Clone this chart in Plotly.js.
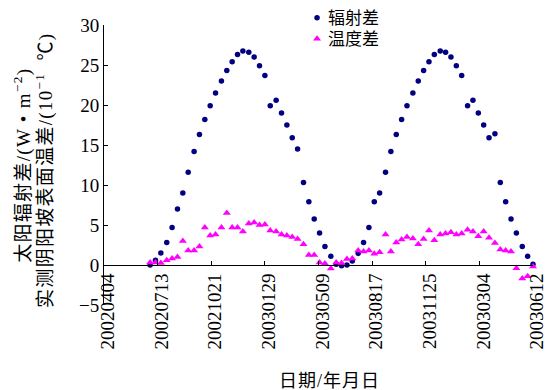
<!DOCTYPE html>
<html>
<head>
<meta charset="utf-8">
<script src="https://cdn.plot.ly/plotly-3.0.1.min.js"></script>
<style>
html,body{margin:0;padding:0;background:#fff;}
#chart{width:547px;height:390px;}
</style>
</head>
<body>
<div id="chart"></div>
<script>
// days since 2002-04-04 (dekadal observations)
var dayOffset = [86,96,106,117,127,137,147,157,168,178,
  188,198,208,219,229,239,249,259,270,280,
  290,300,310,321,331,341,351,361,372,382,
  392,402,412,423,433,443,453,463,474,484,
  494,504,514,525,535,545,555,565,576,586,
  596,606,616,627,637,647,657,667,678,688,
  698,708,718,729,739,749,759,769,780,790,
  800];
// 辐射差 (W·m-2)
var radiationDiff = [0.0,0.6,1.5,2.8,4.7,7.0,9.0,11.6,14.2,16.3,
  18.2,19.9,21.5,23.0,24.3,25.4,26.3,26.75,26.6,26.0,
  24.9,23.7,19.9,20.6,19.0,17.5,15.9,14.5,10.3,7.9,
  5.75,4.0,2.3,1.1,0.1,-0.1,0.0,0.5,1.45,2.8,
  4.7,7.9,9.0,11.6,14.2,16.3,18.2,19.9,21.5,23.0,
  24.3,25.4,26.3,26.75,26.6,26.0,24.9,23.7,19.9,20.6,
  19.0,17.5,15.9,16.4,10.3,7.9,5.75,4.0,2.3,1.1,
  0.1];
// 温度差 (10^-1 ℃)
var temperatureDiff = [0.3,0.3,0.25,0.6,0.8,1.0,3.0,1.8,1.8,2.3,
  4.7,3.7,3.8,4.7,6.5,4.7,4.7,4.2,5.2,5.3,
  5.0,5.05,4.3,4.2,3.8,3.7,3.5,3.25,2.6,1.25,
  1.25,0.3,0.2,-0.45,0.3,0.25,0.75,0.8,1.8,1.7,
  1.8,1.4,1.6,3.8,1.7,2.8,3.2,3.5,3.3,2.6,
  3.25,4.3,3.1,3.8,3.95,4.1,3.8,3.95,4.4,4.2,
  3.6,4.2,3.4,2.75,1.95,1.8,1.7,-0.4,-1.7,-1.4,
  -0.2];
var tickDays = [0,100,200,300,400,500,600,700,800];
var tickLabels = ['20020404','20020713','20021021','20030129','20030509','20030817','20031125','20030304','20030612'];
var seriesNames = ['辐射差','温度差'];
var yTitle1 = '太阳辐射差/(W • m<sup>−2</sup>)';
var yTitle2 = '实测阴阳坡表面温差/(10<sup>−1</sup>  ℃)';
var xTitle = '日期/年月日';

var FONT = "'Liberation Serif', 'Noto Sans CJK SC', serif";

var traces = [
  {x: dayOffset, y: radiationDiff, name: seriesNames[0], type: 'scatter', mode: 'markers',
   cliponaxis: false,
   marker: {symbol: 'circle', size: 5.5, color: '#000080'}},
  {x: dayOffset, y: temperatureDiff, name: seriesNames[1], type: 'scatter', mode: 'markers',
   cliponaxis: false,
   marker: {symbol: 'triangle-up', size: 7, color: '#ff00ff'}}
];

var layout = {
  width: 547, height: 390,
  margin: {l: 104, r: 14, t: 25, b: 85, autoexpand: false},
  paper_bgcolor: '#fff', plot_bgcolor: '#fff',
  font: {family: FONT, size: 19, color: '#000'},
  showlegend: true,
  legend: {x: 0.45, y: 1.089, xanchor: 'left', yanchor: 'top',
           bgcolor: 'rgba(0,0,0,0)', font: {family: FONT, size: 17, color: '#000'}, tracegroupgap: 0},
  xaxis: {range: [0, 800], tickvals: tickDays, ticktext: tickLabels, tickangle: -90,
          anchor: 'free', position: 5/35, showline: true, linecolor: '#000', linewidth: 1,
          ticks: 'inside', ticklen: 4, tickcolor: '#000', showgrid: false, zeroline: false,
          ticklabelshift: 4, ticklabeloverflow: 'allow',
          tickfont: {family: FONT, size: 19, color: '#000'}},
  yaxis: {range: [-5, 30], dtick: 5, tick0: 0, showline: true, linecolor: '#000', linewidth: 1,
          ticks: 'inside', ticklen: 4, tickcolor: '#000', showgrid: false, zeroline: false,
          ticklabeloverflow: 'allow',
          tickfont: {family: FONT, size: 19, color: '#000'}},
  annotations: [
    {text: yTitle1, xref: 'paper', yref: 'paper', x: -0.191, y: 0.5, xanchor: 'center', yanchor: 'middle',
     textangle: -90, showarrow: false, font: {family: FONT, size: 19, color: '#000'}},
    {text: yTitle2, xref: 'paper', yref: 'paper', x: -0.1375, y: 0.48, xanchor: 'center', yanchor: 'middle',
     textangle: -90, showarrow: false, font: {family: FONT, size: 19, color: '#000'}},
    {text: xTitle, xref: 'paper', yref: 'paper', x: 0.5245, y: -0.270, xanchor: 'center', yanchor: 'middle',
     showarrow: false, font: {family: FONT, size: 18, color: '#000'}}
  ]
};

Plotly.newPlot('chart', traces, layout, {staticPlot: true, displayModeBar: false}).then(function(){
  document.querySelectorAll('.legendtext').forEach(function(t){ t.setAttribute('x', 31); });
  var items = document.querySelectorAll('.legend .traces');
  if (items.length === 2) {
    var m = /translate\(([-\d.]+),\s*([-\d.]+)\)/.exec(items[0].getAttribute('transform') || '');
    if (m) {
      items[1].setAttribute('transform', 'translate(' + m[1] + ',' + (parseFloat(m[2]) + 21) + ')');
    }
  }
  var ann = document.querySelectorAll('.annotation-text');
  for (var i = 0; i < ann.length; i++) {
    ann[i].style.letterSpacing = (i < 2 ? '1.3px' : '1px');
  }
});
</script>
</body>
</html>
